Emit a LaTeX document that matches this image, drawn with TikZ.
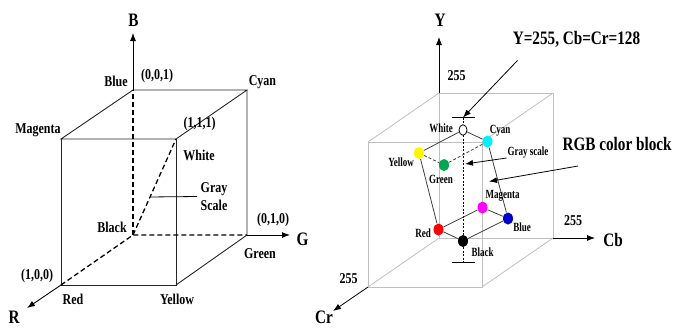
\documentclass[tikz,border=0pt]{standalone}
\usepackage{fontspec}
\setmainfont{Liberation Serif}
\newfontfamily\narrowfont[FakeStretch=0.8]{Liberation Serif}
\newfontfamily\narrowerfont[FakeStretch=0.72]{Liberation Serif}
\usetikzlibrary{arrows.meta,calc,shapes.geometric}
\definecolor{cyandot}{RGB}{0,240,255}
\definecolor{magentadot}{RGB}{255,0,255}
\definecolor{greendot}{RGB}{0,166,81}
\definecolor{bluedot}{RGB}{0,0,205}
\definecolor{yellowdot}{RGB}{255,245,0}
\tikzset{
    lab/.style={font=\narrowfont\bfseries\fontsize{15}{15}\selectfont,inner sep=0pt},
    small/.style={font=\narrowerfont\bfseries\fontsize{12.5}{12.5}\selectfont,inner sep=0pt},
    axislab/.style={font=\narrowfont\bfseries\fontsize{19}{19}\selectfont,inner sep=0pt},
    hidden/.style={line width=1.3pt,dash pattern=on 5pt off 3pt},
    dot/.style={ellipse,minimum width=10pt,minimum height=12pt,inner sep=0pt,fill=#1},
}
\begin{document}
\begin{tikzpicture}[x=1pt,y=-1pt,>={Latex[length=8pt,width=6pt]}]
        \useasboundingbox (0,0) rectangle (674,327);
        \colorlet{edge}{black!85}
        \colorlet{box}{black!25}
        % RGB cube
        \begin{scope}[line width=0.9pt]
            \coordinate (black) at (133,235);
            \coordinate (blue) at (133,90);
            \coordinate (green) at (247,235);
            \coordinate (cyan) at (247,90);
            \coordinate (red) at (61,285);
            \coordinate (yellow) at (176,285);
            \coordinate (magenta) at (61,139);
            \coordinate (white) at (176,139);
            \coordinate (b tip) at (133,33);
            \coordinate (g tip) at (290,235);
            \coordinate (r tip) at (27,308);
            \draw[edge] (blue) -- (cyan) -- (white) -- (magenta) -- cycle;
            \draw[edge] (magenta) -- (red) -- (yellow) -- (white);
            \draw[edge] (yellow) -- (green) -- (cyan);
            \draw[hidden] (red) -- (black) -- (green);
            \draw[hidden] (black) -- (blue);
            \draw[hidden] (black) -- (white);
            \draw[->] (blue) -- (b tip);
            \draw[->] (green) -- (g tip);
            \draw[->] (red) -- (r tip);
            \node[axislab] (B) at (133.5,20) {B};
            \node[axislab] (G) at (302.5,239) {G};
            \node[axislab] (R) at (14,317) {R};
            \node[lab] (blue lab) at (116,81) {Blue};
            \node[lab] (blue rgb) at (157,76) {(0,0,1)};
            \node[lab] (cyan lab) at (262.5,82) {Cyan};
            \node[lab] (magenta lab) at (38,130) {Magenta};
            \node[lab] (white rgb) at (199.5,124) {(1,1,1)};
            \node[lab] (white lab) at (199,155) {White};
            \node[lab,align=center] (gray lab) at (214,196.5) {Gray\\[3pt]Scale};
            \node[lab] (black lab) at (112,227.5) {Black};
            \node[lab] (green rgb) at (273,220) {(0,1,0)};
            \node[lab] (green lab) at (260,254) {Green};
            \node[lab] (red rgb) at (37,276) {(1,0,0)};
            \node[lab] (red lab) at (73,299) {Red};
            \node[lab] (yellow lab) at (177,299) {Yellow};
            \draw[line width=0.8pt] ($(black)!0.396!(white)$) -- ([xshift=-3pt]gray lab.west);
        \end{scope}
        % YCbCr cube
        \begin{scope}[line width=0.8pt]
            \coordinate (back tl) at (439,93);
            \coordinate (back tr) at (553,93);
            \coordinate (back bl) at (439,238);
            \coordinate (back br) at (553,238);
            \coordinate (front tl) at (368,142);
            \coordinate (front tr) at (482,142);
            \coordinate (front bl) at (368,287);
            \coordinate (front br) at (482,287);
            \draw[box] (back tl) rectangle (back br);
            \draw[box] (front tl) rectangle (front br);
            \foreach \c in {tl,tr,bl,br}
            \draw[box] (back \c) -- (front \c);
            \coordinate (y tip) at (439,37);
            \coordinate (cb tip) at (595,238);
            \coordinate (cr tip) at (333,311);
            \draw[->] (back tl) -- (y tip);
            \draw[->] (back br) -- (cb tip);
            \draw[->] (front bl) -- (cr tip);
            \node[axislab] (Y) at (440,20) {Y};
            \node[axislab] (Cb) at (613,240) {Cb};
            \node[axislab] (Cr) at (324,317) {Cr};
            \node[lab] (y max) at (456.5,75.5) {255};
            \node[lab] (cb max) at (573,221) {255};
            \node[lab] (cr max) at (348.5,279) {255};
            % gray axis of the block
            \coordinate (gray top) at (463,117.5);
            \coordinate (gray bottom) at (463,262.5);
            \draw[line width=0.6pt,dash pattern=on 2pt off 1.5pt] (gray top) -- (gray bottom);
            \draw ([xshift=-11.5pt]gray top) -- ([xshift=11.5pt]gray top);
            \draw ([xshift=-11.5pt]gray bottom) -- ([xshift=11.5pt]gray bottom);
            % corners of the block
            \foreach \n/\c/\x/\y in {cyan/cyandot/487.5/141.5, yellow/yellowdot/419/153,
                green/greendot/444/165, magenta/magentadot/482.5/207.5,
                blue/bluedot/508/218.5, red/red/438.5/229.5, black/black/463/241}
            \node[dot=\c] (\n\space dot) at (\x,\y) {};
            \node[ellipse,draw,fill=white,minimum width=8pt,minimum height=10.5pt,inner sep=0pt] (white dot) at (463,130) {};
            \draw[black!75] (white dot) -- (cyan dot) -- (blue dot) -- (black dot) -- (red dot) -- (yellow dot) -- (white dot);
            \draw[black!75] (red dot) -- (magenta dot) -- (blue dot);
            \draw[black!75,dash pattern=on 3pt off 2pt] (yellow dot) -- (green dot) -- (cyan dot);
            \node[small] (white tag) at (441,128.5) {White};
            \node[small] (cyan tag) at (500,131) {Cyan};
            \node[small] (yellow tag) at (401,162) {Yellow};
            \node[small] (green tag) at (441,179) {Green};
            \node[small] (magenta tag) at (502.5,196) {Magenta};
            \node[small] (blue tag) at (522,227) {Blue};
            \node[small] (red tag) at (423,233) {Red};
            \node[small] (black tag) at (482.5,252) {Black};
            % callouts
            \node[axislab] (white value) at (576.5,39) {Y=255, Cb=Cr=128};
            \node[axislab,anchor=east] (block lab) at (672,144) {RGB color block};
            \node[small] (scale lab) at (528,153) {Gray scale};
            \coordinate (white from) at (517.5,60.5);
            \coordinate (block from) at (578,166);
            \coordinate (block to) at (489,181.5);
            \coordinate (scale from) at (506.5,158);
            \coordinate (scale to) at (465,164);
            \draw[->] (white from) -- (gray top);
            \draw[->] (block from) -- (block to);
            \draw[->] (scale from) -- (scale to);
        \end{scope}
    \end{tikzpicture}
\end{document}
